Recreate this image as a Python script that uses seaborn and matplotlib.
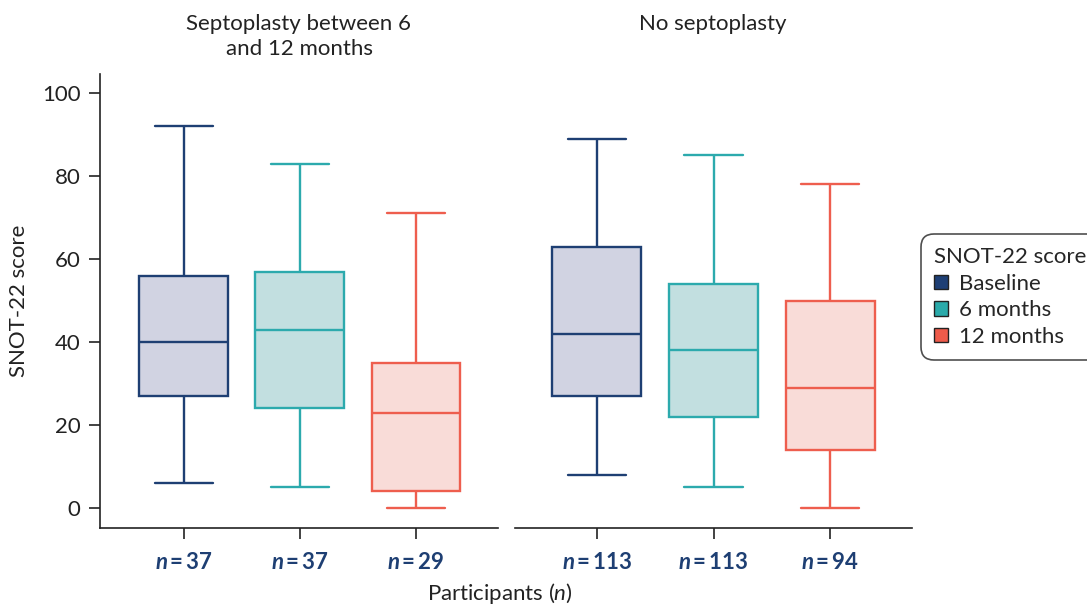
import numpy as np
import pandas as pd
import matplotlib
matplotlib.use("Agg")
import matplotlib.pyplot as plt
from matplotlib.patches import Patch
import seaborn as sns

# ---- data (five-number summaries) ----
times = ["Baseline", "6 months", "12 months"]
groups = ["Septoplasty between 6\nand 12 months", "No septoplasty"]

sept_baseline = [6, 27, 40, 56, 92]
sept_6m = [5, 24, 43, 57, 83]
sept_12m = [0, 4, 23, 35, 71]
nosept_baseline = [8, 27, 42, 63, 89]
nosept_6m = [5, 22, 38, 54, 85]
nosept_12m = [0, 14, 29, 50, 78]

n_sept = [37, 37, 29]
n_nosept = [113, 113, 94]

yticks = [0, 20, 40, 60, 80, 100]

rows = []
for g, series in zip(groups, [[sept_baseline, sept_6m, sept_12m],
                              [nosept_baseline, nosept_6m, nosept_12m]]):
    for t, vals in zip(times, series):
        for v in vals:
            rows.append({"group": g, "time": t, "score": v})
df = pd.DataFrame(rows)

# ---- style ----
sns.set_style("ticks")
plt.rcParams["font.family"] = ["Lato", "DejaVu Sans"]
plt.rcParams["mathtext.fontset"] = "custom"
plt.rcParams["mathtext.rm"] = "Lato"
plt.rcParams["mathtext.it"] = "Lato:italic"
plt.rcParams["mathtext.bf"] = "Lato:bold"
plt.rcParams["mathtext.bfit"] = "Lato:bold:italic"

edge_cols = {"Baseline": "#1E3F73", "6 months": "#2CAAAD", "12 months": "#EE5E4E"}
fill_cols = {"Baseline": "#D1D3E2", "6 months": "#C2DFE0", "12 months": "#F9DCD8"}
legend_cols = {"Baseline": "#1E3F75", "6 months": "#2AAAAA", "12 months": "#EE5B4A"}
navy = "#1E3F73"
txt = "#222222"
fs = 16

fig = plt.figure(figsize=(10.87, 6.07), dpi=100)
W, H = 1087, 607
ax1 = fig.add_axes([100 / W, 1 - 528 / H, 398 / W, 454 / H])
ax2 = fig.add_axes([515 / W, 1 - 528 / H, 397 / W, 454 / H])

for ax, g, ns in [(ax1, groups[0], n_sept), (ax2, groups[1], n_nosept)]:
    sub = df[df["group"] == g]
    for t in times:
        sns.boxplot(data=sub[sub["time"] == t], x="time", y="score", order=times,
                    ax=ax, color=fill_cols[t], linecolor=edge_cols[t],
                    linewidth=1.7, width=0.76, whis=(0, 100), saturation=1,
                    capwidths=0.5)
    ax.set_ylim(-4.8, 104.6)
    ax.set_xlabel("")
    ax.set_ylabel("")
    ax.set_xticks(range(3))
    ax.set_xticklabels([r"$\mathbfit{n}$" + "\u2009=\u2009" + str(n) for n in ns],
                       fontsize=fs, fontweight="bold", color=navy)
    ax.tick_params(axis="x", length=8, width=1.2, color=txt, pad=9)
    ax.spines["top"].set_visible(False)
    ax.spines["right"].set_visible(False)
    ax.spines["bottom"].set_linewidth(1.2)
    ax.spines["bottom"].set_color(txt)

ax1.set_xlim(-0.72, 2.71)
ax2.set_xlim(-0.70, 2.70)

ax1.set_yticks(yticks)
ax1.set_yticklabels([str(v) for v in yticks], fontsize=fs, color=txt)
ax1.tick_params(axis="y", length=8, width=1.2, color=txt, pad=6)
ax1.spines["left"].set_linewidth(1.2)
ax1.spines["left"].set_color(txt)
ax1.set_ylabel("SNOT-22 score", fontsize=fs, color=txt, labelpad=9)

ax2.spines["left"].set_visible(False)
ax2.set_yticks([])

# titles
fig.text(299 / W, 1 - 14 / H, groups[0], ha="center", va="top", fontsize=fs,
         color=txt, linespacing=1.3)
fig.text(713 / W, 1 - 14 / H, groups[1], ha="center", va="top", fontsize=fs,
         color=txt)
fig.text(500 / W, 1 - 593 / H, r"Participants ($n$)", ha="center", va="center",
         fontsize=fs, color=txt)

handles = [Patch(facecolor=legend_cols[t], edgecolor="#222222", linewidth=1.0, label=t)
           for t in times]
leg = fig.legend(handles=handles, title="SNOT-22 score", loc="upper left",
                 bbox_to_anchor=(921 / W, 1 - 234 / H), fontsize=fs,
                 title_fontsize=fs, frameon=True, fancybox=True,
                 handlelength=0.62, handleheight=0.62, handletextpad=0.5,
                 labelspacing=0.29, borderpad=0.6, borderaxespad=0.0,
                 alignment="left")
leg.get_frame().set_edgecolor("#222222")
leg.get_frame().set_linewidth(1.2)
leg.get_frame().set_boxstyle("round,pad=0.0,rounding_size=0.6")

fig.savefig("out.png", dpi=100)
